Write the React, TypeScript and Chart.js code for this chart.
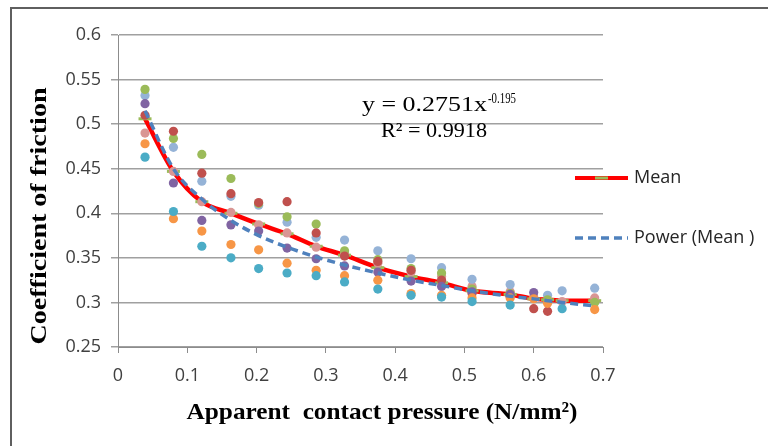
import React, { useEffect, useRef } from "react";
import { Chart, registerables } from "chart.js";

Chart.register(...registerables);

// Apparent contact pressure (N/mm²) at each measuring step
const pressure = [0.039, 0.080, 0.121, 0.163, 0.203, 0.244, 0.286, 0.327, 0.375, 0.423, 0.467, 0.511, 0.566, 0.600, 0.620, 0.641, 0.688];

// Coefficient of friction per test series (null = no visible point)
const seriesTeal = [0.463, 0.402, 0.363, 0.350, 0.338, 0.333, 0.330, 0.323, 0.315, 0.308, 0.306, 0.301, 0.297, null, null, 0.293, null];
const seriesOrange = [0.478, 0.394, 0.380, 0.365, 0.359, 0.344, 0.336, 0.330, 0.325, 0.310, 0.308, 0.305, 0.305, 0.304, 0.299, null, 0.292];
const seriesPink = [0.490, 0.447, 0.413, 0.401, 0.387, 0.378, 0.362, 0.355, 0.344, 0.334, 0.329, 0.318, 0.312, 0.306, null, 0.301, 0.305];
const seriesLightBlue = [0.532, 0.474, 0.436, 0.419, 0.409, 0.390, 0.373, 0.370, 0.358, 0.349, 0.339, 0.326, 0.320, null, 0.308, 0.313, 0.316];
const seriesPurple = [0.523, 0.434, 0.392, 0.387, 0.380, 0.361, 0.349, 0.341, 0.334, 0.324, 0.318, 0.312, 0.309, 0.311, null, null, null];
const seriesDarkRed = [0.510, 0.492, 0.445, 0.422, 0.412, 0.413, 0.378, 0.352, 0.346, 0.336, 0.325, 0.310, 0.307, 0.293, 0.290, null, null];
const seriesGreen = [0.539, 0.484, 0.466, 0.439, 0.411, 0.396, 0.388, 0.358, 0.348, 0.338, 0.333, 0.315, 0.310, null, 0.303, null, 0.300];

// Mean curve and power trend line
const meanValues = [0.506, 0.447, 0.413, 0.400, 0.388, 0.377, 0.363, 0.353, 0.339, 0.329, 0.322, 0.313, 0.309, 0.304, 0.303, 0.302, 0.302];
const powerTrend = [0.515, 0.450, 0.416, 0.392, 0.375, 0.362, 0.351, 0.342, 0.333, 0.325, 0.319, 0.313, 0.307, 0.304, 0.302, 0.300, 0.296];

const xTickLabels = ["0", "0.1", "0.2", "0.3", "0.4", "0.5", "0.6", "0.7"];
const yTickLabels = ["0.25", "0.3", "0.35", "0.4", "0.45", "0.5", "0.55", "0.6"];

const seriesList: { values: (number | null)[]; color: string }[] = [
  { values: seriesTeal, color: "#4BACC6" },
  { values: seriesOrange, color: "#F79646" },
  { values: seriesPurple, color: "#8064A2" },
  { values: seriesDarkRed, color: "#C0504D" },
  { values: seriesGreen, color: "#9BBB59" },
  { values: seriesLightBlue, color: "#95B3D7" },
  { values: seriesPink, color: "#D99694" },
];

function toPoints(values: (number | null)[]) {
  const pts: { x: number; y: number }[] = [];
  values.forEach((v, i) => {
    if (v !== null) pts.push({ x: pressure[i], y: v });
  });
  return pts;
}

function drawFitted(
  ctx: CanvasRenderingContext2D,
  text: string,
  font: string,
  x: number,
  y: number,
  targetW: number,
  align: CanvasTextAlign,
  rotate = false
) {
  ctx.save();
  ctx.font = font;
  const w = ctx.measureText(text).width;
  const s = targetW / w;
  ctx.translate(x, y);
  if (rotate) ctx.rotate(-Math.PI / 2);
  ctx.scale(s, 1);
  ctx.textAlign = align;
  ctx.textBaseline = "middle";
  ctx.fillStyle = "#000";
  ctx.fillText(text, 0, 0);
  ctx.restore();
}

const overlayPlugin = {
  id: "overlay",
  afterDraw(chart: any) {
    const ctx: CanvasRenderingContext2D = chart.ctx;
    ctx.save();
    // axis titles
    drawFitted(ctx, "Coefficient of friction", "bold 23px 'Liberation Serif'", 40, 216, 257, "center", true);
    drawFitted(ctx, "Apparent  contact pressure (N/mm²)", "bold 24px 'Liberation Serif'", 382, 413, 391, "center");
    // trend equation
    drawFitted(ctx, "y = 0.2751x", "21px 'Liberation Serif'", 362, 105, 125, "left");
    drawFitted(ctx, "-0.195", "14px 'Liberation Serif'", 488, 99, 28, "left");
    drawFitted(ctx, "R² = 0.9918", "21px 'Liberation Serif'", 381, 131, 106, "left");

    // legend: Mean
    ctx.lineCap = "butt";
    ctx.strokeStyle = "#FF0000";
    ctx.lineWidth = 4;
    ctx.beginPath();
    ctx.moveTo(575, 178);
    ctx.lineTo(628, 178);
    ctx.stroke();
    ctx.strokeStyle = "#9BBB59";
    ctx.lineWidth = 3;
    ctx.beginPath();
    ctx.moveTo(595, 178);
    ctx.lineTo(608, 178);
    ctx.stroke();
    // legend: Power
    ctx.strokeStyle = "#4F81BD";
    ctx.lineWidth = 3.5;
    ctx.setLineDash([8, 5]);
    ctx.beginPath();
    ctx.moveTo(575, 238);
    ctx.lineTo(628, 238);
    ctx.stroke();
    ctx.setLineDash([]);
    ctx.font = "18px 'Open Sans'";
    ctx.fillStyle = "#262626";
    ctx.textAlign = "left";
    ctx.textBaseline = "middle";
    ctx.fillText("Mean", 634, 178);
    ctx.fillText("Power (Mean )", 634, 238);
    ctx.restore();
  },
};

export default function App() {
  const canvasRef = useRef<HTMLCanvasElement | null>(null);

  useEffect(() => {
    document.body.style.margin = "0";
    const canvas = canvasRef.current;
    if (!canvas) return;

    const scatterSets = seriesList.map((s, i) => ({
      type: "scatter" as const,
      label: "Series " + (i + 1),
      data: toPoints(s.values),
      showLine: false,
      pointRadius: 4.6,
      pointBackgroundColor: s.color,
      pointBorderWidth: 0,
      pointBorderColor: s.color,
      order: 1,
    }));

    const chart = new Chart(canvas, {
      type: "scatter",
      data: {
        datasets: [
          {
            type: "scatter",
            label: "Power (Mean )",
            data: toPoints(powerTrend),
            showLine: true,
            borderColor: "#4F81BD",
            borderWidth: 3.5,
            borderDash: [8, 5],
            pointRadius: 0,
            cubicInterpolationMode: "monotone",
            order: 0,
          } as any,
          ...scatterSets,
          {
            type: "scatter",
            label: "Mean",
            data: toPoints(meanValues),
            showLine: true,
            borderColor: "#FF0000",
            borderWidth: 4.5,
            cubicInterpolationMode: "monotone",
            pointStyle: "line",
            pointRadius: 6.5,
            pointBorderColor: "#9BBB59",
            pointBorderWidth: 3,
            order: 2,
          } as any,
        ],
      },
      options: {
        responsive: false,
        maintainAspectRatio: false,
        animation: false,
        devicePixelRatio: 1,
        layout: { padding: { left: 0, top: 35, right: 165, bottom: 0 } },
        plugins: {
          legend: { display: false },
          tooltip: { enabled: false },
        },
        scales: {
          x: {
            type: "linear",
            position: "bottom",
            min: 0,
            max: 0.7,
            ticks: {
              stepSize: 0.1,
              padding: 12,
              color: "#404040",
              font: { family: "'Open Sans'", size: 18 },
              callback: (v: any) => xTickLabels[Math.round(Number(v) / 0.1)] ?? "",
              maxRotation: 0,
            },
            grid: {
              drawOnChartArea: false,
              drawTicks: true,
              tickLength: 6,
              color: "#8c8c8c",
            },
            border: { display: true, color: "#8c8c8c", width: 1 },
            afterFit: (s: any) => {
              s.height = 99;
            },
          },
          y: {
            type: "linear",
            min: 0.25,
            max: 0.6,
            ticks: {
              stepSize: 0.05,
              padding: 10,
              color: "#404040",
              font: { family: "'Open Sans'", size: 18 },
              callback: (v: any) => yTickLabels[Math.round((Number(v) - 0.25) / 0.05)] ?? "",
            },
            grid: {
              drawTicks: true,
              tickLength: 7,
              color: "#a0a0a0",
              lineWidth: 1.5,
            },
            border: { display: true, color: "#8c8c8c", width: 1 },
            afterFit: (s: any) => {
              s.width = 118;
            },
          },
        },
      },
      plugins: [overlayPlugin],
    });

    return () => chart.destroy();
  }, []);

  return (
    <div
      style={{
        position: "fixed",
        left: 0,
        top: 0,
        width: 768,
        height: 446,
        overflow: "hidden",
        background: "#fff",
      }}
    >
      <div
        style={{
          position: "absolute",
          left: 10,
          top: 7,
          width: 800,
          height: 500,
          borderLeft: "2px solid #5f5f5f",
          borderTop: "2px solid #5f5f5f",
        }}
      />
      <canvas
        ref={canvasRef}
        width={768}
        height={446}
        style={{ position: "absolute", left: 0, top: 0, width: 768, height: 446 }}
      />
    </div>
  );
}
